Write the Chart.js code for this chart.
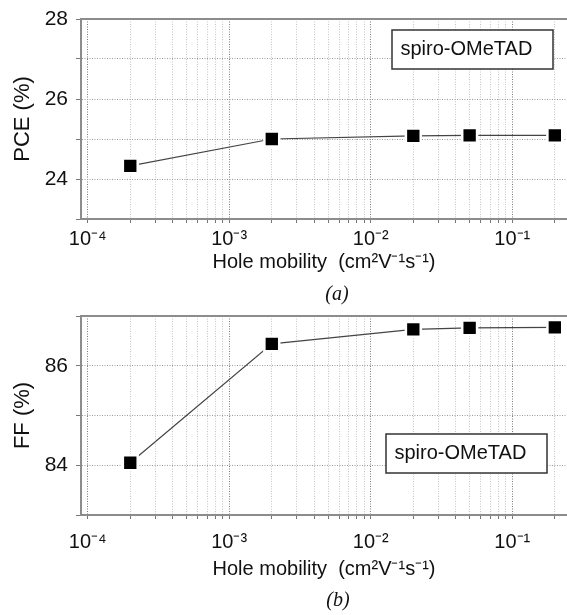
<!DOCTYPE html>
<html>
<head>
<meta charset="utf-8">
<script src="https://cdn.jsdelivr.net/npm/chart.js@4.4.1/dist/chart.umd.min.js"></script>
<style>
  html, body { margin: 0; padding: 0; background: #fff; }
  canvas { display: block; }
</style>
</head>
<body>
<canvas id="c1" width="567" height="307"></canvas>
<canvas id="c2" width="567" height="308"></canvas>
<script>
// ---- data ----
const mobility = [2e-4, 2e-3, 2e-2, 5e-2, 2e-1];
const pce = [24.33, 25.0, 25.08, 25.09, 25.09];
const ff = [84.05, 86.44, 86.73, 86.76, 86.77];
const xDecadeLabels = { '-4': '10⁻⁴', '-3': '10⁻³', '-2': '10⁻²', '-1': '10⁻¹' };
const xTitle = 'Hole mobility  (cm²V⁻¹s⁻¹)';
const legendText = 'spiro-OMeTAD';
const panelLabels = ['(a)', '(b)'];
const yTitles = ['PCE (%)', 'FF (%)'];
const yRanges = [[23, 28], [83, 87]];
const xRange = [8.97e-5, 0.2438];

const SANS = "'Liberation Sans', Arial, sans-serif";
const SERIF = "'Liberation Serif', 'Times New Roman', serif";

function isDecade(v) {
  const l = Math.log10(v);
  return Math.abs(l - Math.round(l)) < 1e-6;
}

function boxPlugin(cfg) {
  return {
    id: 'annot',
    afterDraw(chart) {
      const ctx = chart.ctx, a = chart.chartArea;
      const bx = a.right - cfg.boxRight, by = cfg.boxFromBottom ? a.bottom - cfg.boxY : a.top + cfg.boxY;
      ctx.save();
      ctx.fillStyle = '#fff';
      ctx.fillRect(bx, by, 161, 39);
      ctx.strokeStyle = '#333';
      ctx.lineWidth = 1.5;
      ctx.strokeRect(bx, by, 161, 39);
      ctx.fillStyle = '#111';
      ctx.font = '20px ' + SANS;
      ctx.textBaseline = 'middle';
      ctx.textAlign = 'left';
      ctx.fillText(legendText, bx + 8.5, by + 19);
      ctx.font = 'italic 20px ' + SERIF;
      ctx.textAlign = 'center';
      ctx.fillText(cfg.panel, cfg.panelX, cfg.panelY);
      ctx.restore();
    }
  };
}

function makeChart(id, yData, idx, opt) {
  const ctx = document.getElementById(id);
  return new Chart(ctx, {
    type: 'line',
    data: {
      datasets: [{
        data: mobility.map((m, i) => ({ x: m, y: yData[i] })),
        borderColor: '#444',
        borderWidth: 1.2,
        pointStyle: 'rect',
        pointRadius: 10.5,
        pointHoverRadius: 10.5,
        pointBackgroundColor: '#000',
        pointBorderColor: '#fff',
        pointBorderWidth: 2.5,
        tension: 0,
        fill: false,
        clip: false
      }]
    },
    options: {
      responsive: false,
      animation: false,
      events: [],
      layout: { autoPadding: false, padding: { left: 0, right: 0, top: opt.padTop, bottom: opt.padBottom } },
      plugins: { legend: { display: false }, tooltip: { enabled: false }, title: { display: false } },
      scales: {
        x: {
          type: 'logarithmic',
          position: 'bottom',
          min: xRange[0],
          max: xRange[1],
          afterBuildTicks(s) {
            const t = [];
            for (let e = -4; e <= -1; e++) {
              for (let m = 1; m <= 9; m++) {
                const v = m * Math.pow(10, e);
                if (v >= 1e-4 - 1e-12 && v <= s.max) t.push({ value: v });
              }
            }
            s.ticks = t;
          },
          afterFit(s) { s.height = opt.xHeight; s.paddingLeft = 0; s.paddingRight = 0; },
          ticks: {
            autoSkip: false,
            maxRotation: 0,
            minRotation: 0,
            padding: opt.xTickPad,
            color: '#111',
            font: { family: SANS, size: 20 },
            callback(v) {
              if (isDecade(v)) return xDecadeLabels[String(Math.round(Math.log10(v)))] || '';
              return '';
            }
          },
          grid: {
            color: (c) => (c.tick && isDecade(c.tick.value)) ? '#7a7a7a' : '#c4c4c4',
            lineWidth: 1,
            tickLength: 4,
            tickColor: '#777',
            tickWidth: 1
          },
          border: { display: true, color: '#8c8c8c', width: 2, dash: [1, 1.5] },
          title: {
            display: true,
            text: xTitle,
            color: '#111',
            font: { family: SANS, size: 20 },
            padding: { top: 0, bottom: opt.xTitlePad }
          }
        },
        xTop: {
          type: 'logarithmic',
          position: 'top',
          min: xRange[0],
          max: xRange[1],
          afterFit(s) { s.height = 0; s.paddingLeft = 0; s.paddingRight = 0; },
          ticks: { display: false },
          grid: { drawOnChartArea: false, drawTicks: false },
          border: { display: true, color: '#8c8c8c', width: 2 }
        },
        y: {
          type: 'linear',
          position: 'left',
          min: yRanges[idx][0],
          max: yRanges[idx][1],
          afterFit(s) { s.width = 81; s.paddingTop = 0; s.paddingBottom = 0; },
          ticks: {
            stepSize: 1,
            padding: 8,
            color: '#111',
            font: { family: SANS, size: 21 },
            callback(v) { return (Math.round(v) % 2 === 0) ? String(v) : ''; }
          },
          grid: {
            color: '#9a9a9a',
            lineWidth: 1,
            tickLength: 5,
            tickColor: '#777',
            tickWidth: 1
          },
          border: { display: true, color: '#8c8c8c', width: 2, dash: [1, 1.5] },
          title: {
            display: true,
            text: yTitles[idx],
            color: '#111',
            font: { family: SANS, size: 22 },
            padding: { top: 10, bottom: 0 }
          }
        }
      }
    },
    plugins: [boxPlugin(opt)]
  });
}

makeChart('c1', pce, 0, {
  padTop: 19, padBottom: 24, xHeight: 64, xTickPad: 4.5, xTitlePad: 9,
  boxRight: 175, boxY: 11, boxFromBottom: false,
  panel: panelLabels[0], panelX: 337, panelY: 295
});
makeChart('c2', ff, 1, {
  padTop: 9, padBottom: 26, xHeight: 74, xTickPad: 11.5, xTitlePad: 8,
  boxRight: 181, boxY: 81, boxFromBottom: true,
  panel: panelLabels[1], panelX: 338, panelY: 294
});
</script>
</body>
</html>
